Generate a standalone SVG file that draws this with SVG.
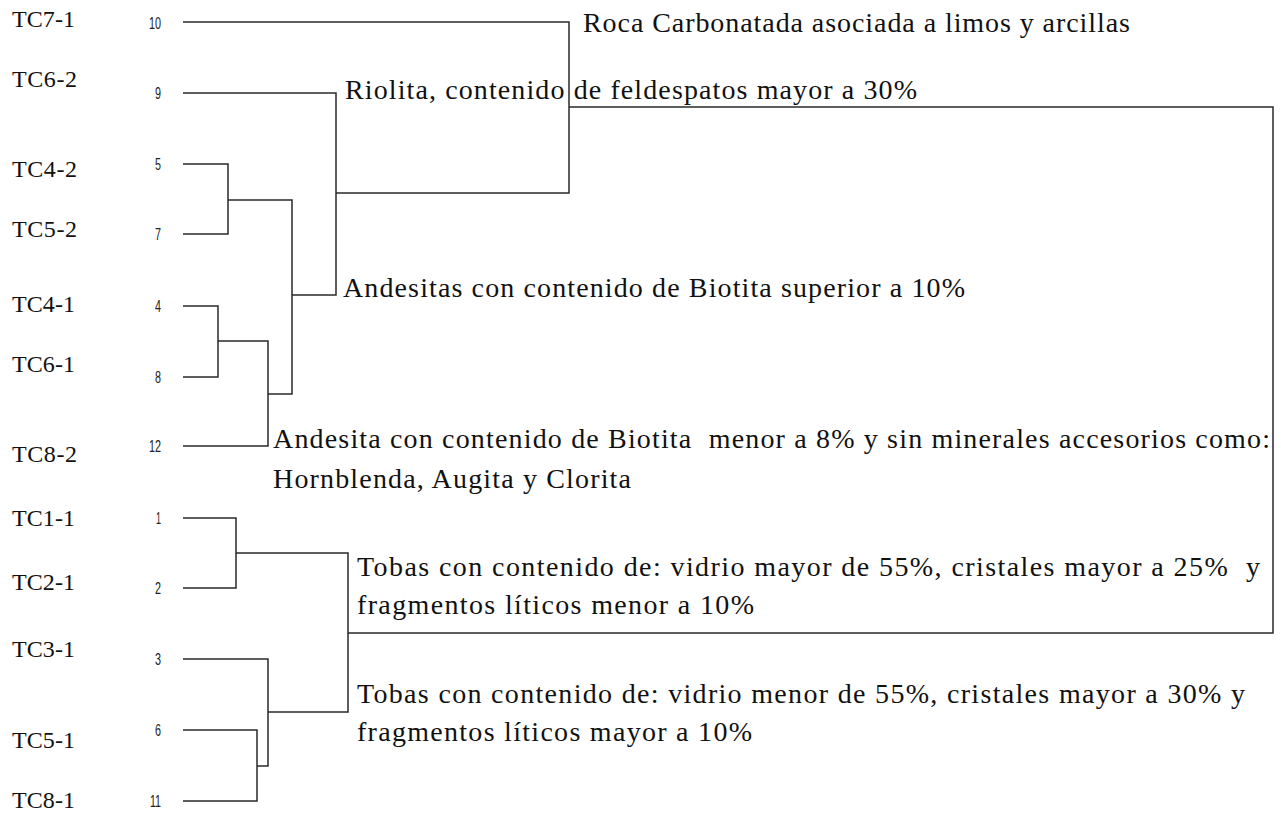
<svg xmlns="http://www.w3.org/2000/svg" width="1281" height="815" viewBox="0 0 1281 815">
<style>
.lbl{font-family:"Liberation Serif","Times New Roman",serif;font-size:24px;fill:#111}
.num{font-family:"Liberation Sans",Arial,sans-serif;font-size:17px;fill:#222;text-anchor:end}
.txt{font-family:"Liberation Serif","Times New Roman",serif;font-size:28px;fill:#111}
.ln{fill:none;stroke:#2a2a2a;stroke-width:1.5}
</style>
<rect width="1281" height="815" fill="#fff"/>
<g id="connectors">
<path class="ln" d="M183 22 H569 V193 H336"/>
<path class="ln" d="M183 93 H336 V295 H292"/>
<path class="ln" d="M183 164 H228 V234 H183 M228 200 H292 V394 H268"/>
<path class="ln" d="M183 306 H218 V377 H183 M218 341 H268 V446 H183"/>
<path class="ln" d="M569 107 H1273 V633 H348"/>
<path class="ln" d="M183 518 H236 V588 H183 M236 553 H348 V712 H268"/>
<path class="ln" d="M183 659 H268 V766 H257 M183 730 H257 V801 H183"/>
</g>
<g id="leaf-10"><text class="lbl" x="12" y="27" textLength="63">TC7-1</text><text class="num" x="161" y="29" textLength="12" lengthAdjust="spacingAndGlyphs">10</text></g>
<g id="leaf-9"><text class="lbl" x="12" y="87" textLength="65">TC6-2</text><text class="num" x="161" y="99" textLength="6" lengthAdjust="spacingAndGlyphs">9</text></g>
<g id="leaf-5"><text class="lbl" x="12" y="177" textLength="65">TC4-2</text><text class="num" x="161" y="170" textLength="6" lengthAdjust="spacingAndGlyphs">5</text></g>
<g id="leaf-7"><text class="lbl" x="12" y="237" textLength="65">TC5-2</text><text class="num" x="161" y="240" textLength="6" lengthAdjust="spacingAndGlyphs">7</text></g>
<g id="leaf-4"><text class="lbl" x="12" y="312" textLength="63">TC4-1</text><text class="num" x="161" y="312" textLength="6" lengthAdjust="spacingAndGlyphs">4</text></g>
<g id="leaf-8"><text class="lbl" x="12" y="372" textLength="63">TC6-1</text><text class="num" x="161" y="383" textLength="6" lengthAdjust="spacingAndGlyphs">8</text></g>
<g id="leaf-12"><text class="lbl" x="12" y="462" textLength="65">TC8-2</text><text class="num" x="161" y="452" textLength="12" lengthAdjust="spacingAndGlyphs">12</text></g>
<g id="leaf-1"><text class="lbl" x="12" y="526" textLength="63">TC1-1</text><text class="num" x="161" y="524" textLength="5" lengthAdjust="spacingAndGlyphs">1</text></g>
<g id="leaf-2"><text class="lbl" x="12" y="590" textLength="63">TC2-1</text><text class="num" x="161" y="594" textLength="6" lengthAdjust="spacingAndGlyphs">2</text></g>
<g id="leaf-3"><text class="lbl" x="12" y="657" textLength="63">TC3-1</text><text class="num" x="161" y="665" textLength="6" lengthAdjust="spacingAndGlyphs">3</text></g>
<g id="leaf-6"><text class="lbl" x="12" y="748" textLength="63">TC5-1</text><text class="num" x="161" y="736" textLength="6" lengthAdjust="spacingAndGlyphs">6</text></g>
<g id="leaf-11"><text class="lbl" x="12" y="808" textLength="63">TC8-1</text><text class="num" x="161" y="807" textLength="11" lengthAdjust="spacingAndGlyphs">11</text></g>
<g id="note-roca"><text class="txt" x="583" y="32" textLength="547">Roca Carbonatada asociada a limos y arcillas</text></g>
<g id="note-riolita"><text class="txt" x="345" y="99" textLength="572">Riolita, contenido de feldespatos mayor a 30%</text></g>
<g id="note-andesitas"><text class="txt" x="343" y="297" textLength="622">Andesitas con contenido de Biotita superior a 10%</text></g>
<g id="note-andesita"><text class="txt" x="273" y="448" textLength="997" xml:space="preserve">Andesita con contenido de Biotita  menor a 8% y sin minerales accesorios como:</text><text class="txt" x="273" y="488" textLength="358">Hornblenda, Augita y Clorita</text></g>
<g id="note-tobas1"><text class="txt" x="357" y="576" textLength="903" xml:space="preserve">Tobas con contenido de: vidrio mayor de 55%, cristales mayor a 25%  y</text><text class="txt" x="357" y="614" textLength="397">fragmentos líticos menor a 10%</text></g>
<g id="note-tobas2"><text class="txt" x="357" y="703" textLength="888">Tobas con contenido de: vidrio menor de 55%, cristales mayor a 30% y</text><text class="txt" x="357" y="741" textLength="395">fragmentos líticos mayor a 10%</text></g>
</svg>
